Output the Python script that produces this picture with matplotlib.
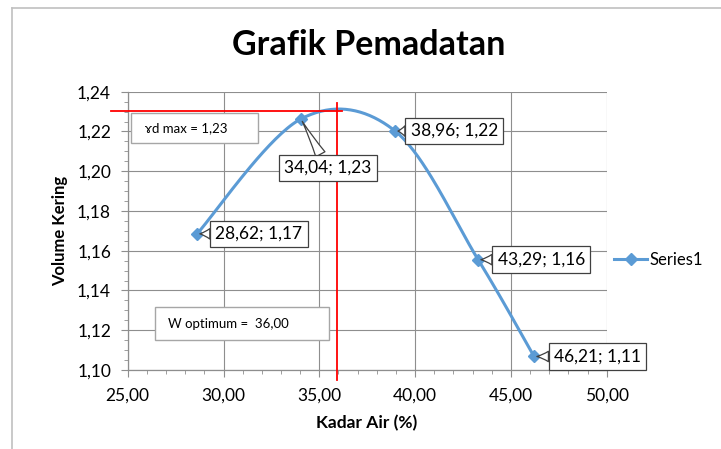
import numpy as np
import matplotlib
matplotlib.use("Agg")
import matplotlib.pyplot as plt
from matplotlib.lines import Line2D
from matplotlib.patches import Rectangle
from matplotlib.ticker import MultipleLocator, FuncFormatter

plt.rcParams['font.family'] = ['Lato', 'DejaVu Sans']

# ---- data ----
kadar_air = [28.62, 34.04, 38.96, 43.29, 46.21]
volume_kering = [1.1685, 1.2263, 1.2202, 1.1555, 1.1068]
point_labels = ["28,62; 1,17", "34,04; 1,23", "38,96; 1,22", "43,29; 1,16", "46,21; 1,11"]
series_name = "Series1"
w_optimum = 36.0
gd_max = 1.2305
title = "Grafik Pemadatan"
xlabel = "Kadar Air (%)"
ylabel = "Volume Kering"

BLUE = "#5B9BD5"
GRID = "#8e8e8e"

W, H = 721, 449
fig = plt.figure(figsize=(W / 100, H / 100), dpi=100)
ax = fig.add_axes([127.7 / W, 1 - 370 / H, (606.7 - 127.7) / W, (370 - 91.7) / H])

# Excel-like smooth curve (Catmull-Rom bezier)
P = np.column_stack([kadar_air, volume_kering])
n = len(P)
curve = []
t = np.linspace(0, 1, 40)
for i in range(n - 1):
    p0 = P[max(i - 1, 0)]
    p1 = P[i]
    p2 = P[i + 1]
    p3 = P[min(i + 2, n - 1)]
    c1 = p1 + (p2 - p0) / 6
    c2 = p2 - (p3 - p1) / 6
    seg = ((1 - t) ** 3)[:, None] * p1 + (3 * (1 - t) ** 2 * t)[:, None] * c1 \
        + (3 * (1 - t) * t ** 2)[:, None] * c2 + (t ** 3)[:, None] * p2
    curve.append(seg)
curve = np.vstack(curve)
ax.plot(curve[:, 0], curve[:, 1], color=BLUE, lw=2.2, zorder=3, solid_capstyle='round')
ax.plot(kadar_air, volume_kering, ls='none', marker='D', ms=6.5, color=BLUE, zorder=4)

ax.set_xlim(25, 50)
ax.set_ylim(1.10, 1.24)
ax.xaxis.set_major_locator(MultipleLocator(5))
ax.xaxis.set_minor_locator(MultipleLocator(1))
ax.yaxis.set_major_locator(MultipleLocator(0.02))
ax.yaxis.set_minor_locator(MultipleLocator(0.005))
ax.xaxis.set_major_formatter(FuncFormatter(lambda v, p: f"{v:.2f}".replace('.', ',')))
ax.yaxis.set_major_formatter(FuncFormatter(lambda v, p: f"{v:.2f}".replace('.', ',')))
ax.grid(True, which='major', color=GRID, lw=0.8)
ax.set_axisbelow(True)
for s in ['top', 'right']:
    ax.spines[s].set_visible(False)
for s in ['left', 'bottom']:
    ax.spines[s].set_color(GRID)
    ax.spines[s].set_linewidth(0.9)
ax.tick_params(which='major', length=5, color=GRID, labelsize=12.5, labelcolor='black')
ax.tick_params(axis='x', which='major', pad=8)
ax.tick_params(axis='y', which='major', pad=7)
ax.tick_params(which='minor', length=3, color=GRID)

fig.text(367 / W, 1 - 423 / H, xlabel, fontsize=12.5, fontweight='bold', ha='center', va='center')
fig.text(60 / W, 1 - 231 / H, ylabel, fontsize=12, fontweight='bold', ha='center', va='center',
         rotation=90)

# red reference lines
ax.plot([24.13, 36.2], [gd_max, gd_max], color='red', lw=1.3, clip_on=False, zorder=5)
ax.plot([w_optimum - 0.1, w_optimum - 0.1], [1.2344, 1.0948], color='red', lw=1.3, clip_on=False, zorder=5)

# data labels (callouts)
offsets = [(62, 0), (27, -49), (59, 0), (63, 0), (63.5, 0)]
for x, y, lab, off in zip(kadar_air, volume_kering, point_labels, offsets):
    ax.annotate(lab, xy=(x, y), xytext=off, textcoords='offset pixels',
                ha='center', va='center', fontsize=12.5, zorder=6,
                bbox=dict(boxstyle='square,pad=0.3', fc='white', ec='#404040', lw=0.9),
                arrowprops=dict(arrowstyle='wedge,tail_width=0.6,shrink_factor=0.4',
                                fc='white', ec='#404040', lw=0.9, shrinkA=0, shrinkB=2))

# text boxes
def text_box(x0, y0, x1, y1, text, tx):
    fig.add_artist(Rectangle((x0 / W, 1 - y1 / H), (x1 - x0) / W, (y1 - y0) / H,
                             transform=fig.transFigure, fc='white', ec='#a6a6a6', lw=1.0, zorder=7))
    fig.text(tx / W, 1 - (y0 + y1) / 2 / H, text, fontsize=9.5, va='center', ha='left', zorder=8)

text_box(131, 113, 258, 143, "ɤd max = 1,23", 145)
text_box(155, 307, 329, 340, "W optimum =  36,00", 168)

# title
fig.text(369 / W, 1 - 45 / H, title, fontsize=24.5, fontweight='bold', ha='center', va='center')

# legend
h = Line2D([], [], color=BLUE, lw=2.2, marker='D', ms=6.5)
fig.legend([h], [series_name], loc='center left', bbox_to_anchor=(614 / W, 1 - 260 / H),
           frameon=False, fontsize=12, handlelength=2.0, handletextpad=0.15, borderpad=0.0,
           borderaxespad=0.0)

# chart border (top and left visible)
fig.add_artist(Line2D([12 / W, 12 / W], [0, 1 - 7.5 / H], color='#c0c0c0', lw=1.2, transform=fig.transFigure))
fig.add_artist(Line2D([12 / W, 1], [1 - 7.5 / H, 1 - 7.5 / H], color='#c0c0c0', lw=1.2, transform=fig.transFigure))

fig.savefig("out.png", dpi=100)
